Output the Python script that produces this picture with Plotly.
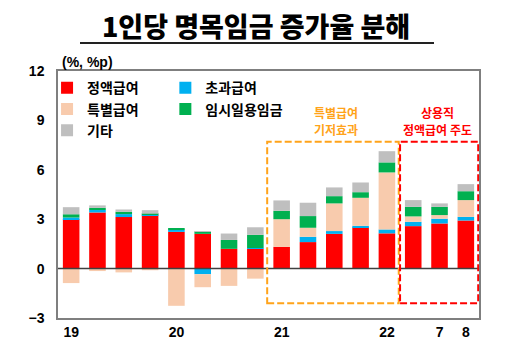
import plotly.graph_objects as go

categories = ["19.1Q", "19.2Q", "19.3Q", "19.4Q",
              "20.1Q", "20.2Q", "20.3Q", "20.4Q",
              "21.1Q", "21.2Q", "21.3Q", "21.4Q",
              "22.1Q", "22.2Q", "22.7", "22.8"]
tick_vals = ["19.1Q", "20.1Q", "21.1Q", "22.1Q", "22.7", "22.8"]
tick_text = ["19", "20", "21", "22", "7", "8"]

regular_pay = [3.00, 3.41, 3.13, 3.25, 2.23, 2.11, 1.20, 1.21,
               1.32, 1.61, 2.11, 2.50, 2.14, 2.58, 2.74, 2.92]
overtime_pay = [0.10, 0.16, 0.18, 0.06, 0.14, -0.34, 0.00, 0.04,
                0.00, 0.32, 0.17, 0.10, 0.24, 0.26, 0.29, 0.22]
special_pay = [-0.88, -0.15, -0.23, -0.10, -2.26, -0.79, -1.05, -0.61,
               1.68, 0.55, 1.68, 1.70, 3.46, 0.33, 0.22, 1.02]
temp_wage = [0.20, 0.12, 0.14, 0.02, 0.05, 0.14, 0.54, 0.80,
             0.51, 0.71, 0.44, 0.34, 0.61, 0.58, 0.50, 0.54]
other = [0.43, 0.15, 0.14, 0.22, 0.00, 0.03, 0.39, 0.46,
         0.63, 0.81, 0.53, 0.59, 0.68, 0.41, 0.21, 0.43]

series = [
    ("정액급여", regular_pay, "#FF0000", "legend"),
    ("초과급여", overtime_pay, "#00B0F0", "legend2"),
    ("특별급여", special_pay, "#F8CBAD", "legend"),
    ("임시일용임금", temp_wage, "#00B050", "legend2"),
    ("기타", other, "#BFBFBF", "legend"),
]

KFONT = "Noto Sans CJK KR"
NFONT = "Liberation Sans"

fig = go.Figure()
for name, vals, color, lg in series:
    fig.add_trace(go.Bar(
        x=categories, y=vals, name=name, marker_color=color,
        marker_line_width=0, width=0.63, legend=lg,
    ))

fig.update_layout(
    width=512, height=359,
    margin=dict(l=58, r=33, t=71, b=41),
    barmode="relative",
    plot_bgcolor="white", paper_bgcolor="white",
    title=dict(text="1인당 명목임금 증가율 분해", x=0.5, xanchor="center",
               y=1 - 28 / 359, yanchor="middle",
               font=dict(family=KFONT, size=27, color="black", weight=900)),
    legend=dict(x=-0.026, y=0.995, xanchor="left", yanchor="top",
                bgcolor="rgba(0,0,0,0)", traceorder="normal",
                font=dict(family=KFONT, size=14, color="black", weight="bold"),
                itemclick=False),
    legend2=dict(x=0.255, y=0.995, xanchor="left", yanchor="top",
                 bgcolor="rgba(0,0,0,0)", traceorder="normal",
                 font=dict(family=KFONT, size=14, color="black", weight="bold"),
                 itemclick=False),
    xaxis=dict(type="category", categoryorder="array", categoryarray=categories,
               range=[-0.5, 15.5], tickvals=tick_vals, ticktext=tick_text,
               showline=True, linecolor="#7F7F7F", linewidth=1.5, mirror=True,
               showgrid=False, ticks="", ticklabelstandoff=0,
               tickfont=dict(family=NFONT, size=14, color="black", weight="bold")),
    yaxis=dict(range=[-3, 12], tickvals=[-3, 0, 3, 6, 9, 12],
               showline=True, linecolor="#7F7F7F", linewidth=1.5, mirror=True,
               showgrid=False, zeroline=False, ticks="", ticklabelstandoff=9,
               tickfont=dict(family=NFONT, size=14, color="black", weight="bold")),
)

# zero line
fig.add_shape(type="line", xref="paper", yref="y", x0=0, x1=1, y0=0, y1=0,
              line=dict(color="#404040", width=1.5), layer="above")
# title underline
fig.add_shape(type="line", xref="paper", yref="paper",
              x0=(80 - 58) / 421, x1=(434 - 58) / 421,
              y0=(318 - 43) / 247, y1=(318 - 43) / 247,
              line=dict(color="#222222", width=2))
# dashed boxes
fig.add_shape(type="rect", xref="x", yref="y", x0=7.45, x1=12.45, y0=-2.1, y1=7.7,
              line=dict(color="#FFA31A", width=2, dash="7px,3px"), layer="above")
fig.add_shape(type="rect", xref="x", yref="y", x0=12.5, x1=15.47, y0=-2.1, y1=7.7,
              line=dict(color="#FF0000", width=2, dash="7px,3px"), layer="above")

fig.add_annotation(text="(%, %p)", xref="paper", yref="paper",
                   x=(60 - 58) / 421, y=(318 - 62) / 247, xanchor="left", yanchor="middle",
                   showarrow=False,
                   font=dict(family=NFONT, size=14, color="black", weight="bold"))

note_lines = [
    ("특별급여", 336, 112, "#FFA31A"),
    ("기저효과", 336, 129.5, "#FFA31A"),
    ("상용직", 437, 112, "#FF0000"),
    ("정액급여 주도", 437, 129.5, "#FF0000"),
]
for txt, px, py, col in note_lines:
    fig.add_annotation(text=txt, xref="paper", yref="paper",
                       x=(px - 58) / 421, y=(318 - py) / 247,
                       xanchor="center", yanchor="middle", showarrow=False,
                       font=dict(family=KFONT, size=12, color=col, weight="bold"))

fig.write_html("out.html", config={"displayModeBar": False},
               post_script="document.body.style.margin='0';")
